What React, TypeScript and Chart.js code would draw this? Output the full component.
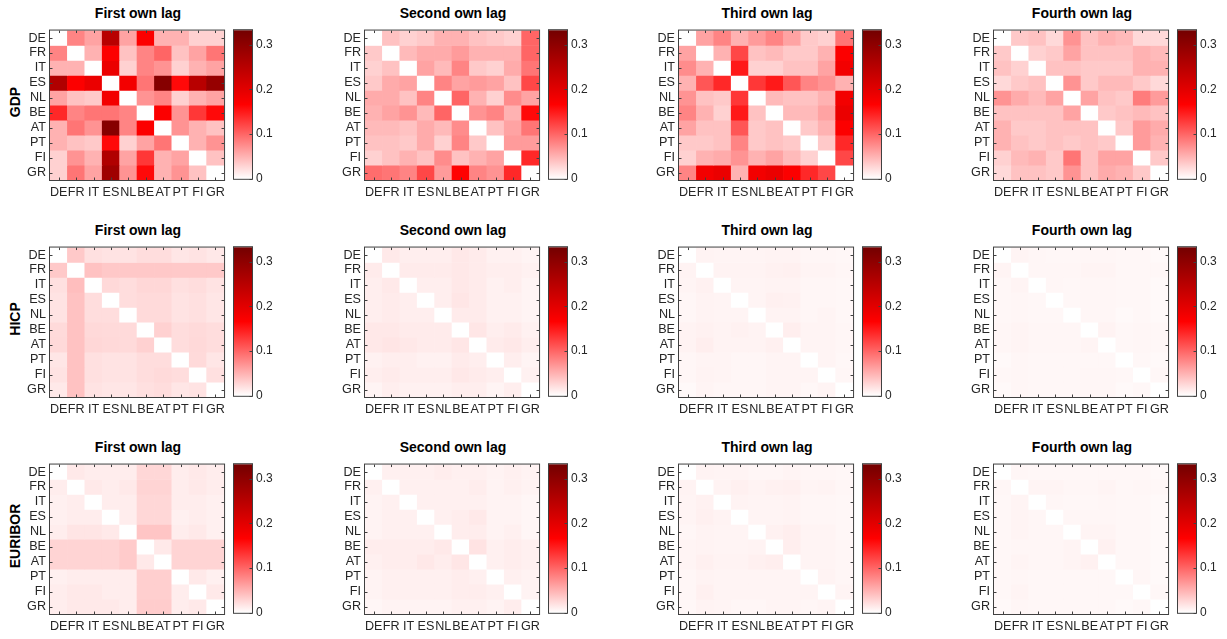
import React, { useEffect, useRef } from "react";
import { Chart, registerables } from "chart.js";

Chart.register(...registerables);

// ---------- data ----------
const countries = ["DE", "FR", "IT", "ES", "NL", "BE", "AT", "PT", "FI", "GR"];
const variables = ["GDP", "HICP", "EURIBOR"];
const lagTitles = ["First own lag", "Second own lag", "Third own lag", "Fourth own lag"];
const colorbarTicks = [0, 0.1, 0.2, 0.3];
const colorMax = 0.332;

// rows = equation country, columns = lagged country
const gdpLag1 = [
  [0, 0.08, 0.06, 0.25, 0.06, 0.17, 0.05, 0.05, 0.03, 0.03],
  [0.08, 0, 0.05, 0.17, 0.04, 0.08, 0.1, 0.04, 0.06, 0.09],
  [0.05, 0.05, 0, 0.19, 0.03, 0.08, 0.07, 0.03, 0.05, 0.06],
  [0.26, 0.17, 0.19, 0, 0.18, 0.09, 0.31, 0.16, 0.25, 0.29],
  [0.06, 0.04, 0.035, 0.18, 0, 0.07, 0.08, 0.03, 0.05, 0.06],
  [0.14, 0.08, 0.09, 0.09, 0.08, 0, 0.17, 0.07, 0.13, 0.16],
  [0.05, 0.09, 0.07, 0.31, 0.08, 0.17, 0, 0.07, 0.05, 0.04],
  [0.05, 0.04, 0.035, 0.16, 0.03, 0.06, 0.09, 0, 0.05, 0.07],
  [0.03, 0.07, 0.05, 0.26, 0.06, 0.13, 0.05, 0.06, 0, 0.04],
  [0.03, 0.09, 0.06, 0.28, 0.07, 0.16, 0.05, 0.07, 0.04, 0],
];
const gdpLag2 = [
  [0, 0.04, 0.03, 0.035, 0.05, 0.05, 0.04, 0.035, 0.03, 0.1],
  [0.035, 0, 0.045, 0.055, 0.055, 0.065, 0.05, 0.05, 0.05, 0.1],
  [0.03, 0.04, 0, 0.06, 0.045, 0.08, 0.035, 0.03, 0.055, 0.09],
  [0.035, 0.055, 0.06, 0, 0.08, 0.06, 0.065, 0.06, 0.04, 0.12],
  [0.055, 0.055, 0.04, 0.08, 0, 0.1, 0.05, 0.03, 0.075, 0.06],
  [0.05, 0.06, 0.07, 0.045, 0.1, 0, 0.07, 0.08, 0.05, 0.16],
  [0.045, 0.045, 0.04, 0.055, 0.045, 0.075, 0, 0.04, 0.06, 0.09],
  [0.04, 0.04, 0.035, 0.055, 0.03, 0.08, 0.035, 0, 0.065, 0.065],
  [0.03, 0.04, 0.05, 0.04, 0.075, 0.04, 0.05, 0.06, 0, 0.14],
  [0.095, 0.09, 0.08, 0.12, 0.065, 0.165, 0.08, 0.07, 0.14, 0],
];
const gdpLag3 = [
  [0, 0.06, 0.08, 0.05, 0.065, 0.08, 0.06, 0.035, 0.03, 0.09],
  [0.06, 0, 0.05, 0.12, 0.04, 0.045, 0.035, 0.035, 0.05, 0.17],
  [0.075, 0.05, 0, 0.15, 0.03, 0.03, 0.04, 0.04, 0.06, 0.18],
  [0.05, 0.11, 0.14, 0, 0.13, 0.15, 0.11, 0.08, 0.07, 0.05],
  [0.07, 0.04, 0.035, 0.13, 0, 0.045, 0.04, 0.04, 0.05, 0.18],
  [0.08, 0.05, 0.03, 0.15, 0.04, 0, 0.045, 0.045, 0.06, 0.19],
  [0.06, 0.04, 0.04, 0.11, 0.035, 0.04, 0, 0.035, 0.05, 0.17],
  [0.035, 0.035, 0.04, 0.08, 0.035, 0.04, 0.035, 0, 0.035, 0.14],
  [0.03, 0.05, 0.055, 0.07, 0.05, 0.06, 0.045, 0.03, 0, 0.12],
  [0.08, 0.18, 0.19, 0.05, 0.18, 0.19, 0.17, 0.14, 0.12, 0],
];
const gdpLag4 = [
  [0, 0.035, 0.04, 0.025, 0.07, 0.04, 0.05, 0.045, 0.025, 0.025],
  [0.035, 0, 0.03, 0.035, 0.06, 0.04, 0.04, 0.04, 0.05, 0.045],
  [0.04, 0.03, 0, 0.04, 0.04, 0.035, 0.035, 0.035, 0.05, 0.05],
  [0.025, 0.035, 0.04, 0, 0.07, 0.035, 0.045, 0.045, 0.035, 0.025],
  [0.07, 0.055, 0.045, 0.06, 0, 0.06, 0.04, 0.035, 0.085, 0.065],
  [0.04, 0.04, 0.04, 0.04, 0.06, 0, 0.035, 0.04, 0.045, 0.04],
  [0.05, 0.035, 0.035, 0.04, 0.04, 0.04, 0, 0.035, 0.065, 0.055],
  [0.05, 0.04, 0.035, 0.04, 0.035, 0.04, 0.035, 0, 0.065, 0.05],
  [0.03, 0.045, 0.05, 0.035, 0.09, 0.04, 0.06, 0.06, 0, 0.035],
  [0.025, 0.04, 0.04, 0.035, 0.07, 0.04, 0.055, 0.05, 0.035, 0],
];

const hicpLag1 = [
  [0, 0.035, 0.02, 0.018, 0.018, 0.022, 0.022, 0.016, 0.018, 0.015],
  [0.035, 0, 0.04, 0.036, 0.036, 0.036, 0.036, 0.035, 0.035, 0.035],
  [0.02, 0.042, 0, 0.025, 0.022, 0.026, 0.026, 0.02, 0.022, 0.018],
  [0.018, 0.04, 0.022, 0, 0.022, 0.024, 0.024, 0.018, 0.02, 0.016],
  [0.018, 0.04, 0.022, 0.022, 0, 0.024, 0.024, 0.018, 0.02, 0.016],
  [0.024, 0.04, 0.025, 0.024, 0.024, 0, 0.03, 0.022, 0.024, 0.022],
  [0.025, 0.04, 0.026, 0.025, 0.024, 0.03, 0, 0.022, 0.025, 0.022],
  [0.016, 0.04, 0.02, 0.018, 0.018, 0.022, 0.022, 0, 0.024, 0.016],
  [0.018, 0.04, 0.02, 0.018, 0.018, 0.022, 0.024, 0.022, 0, 0.02],
  [0.014, 0.04, 0.018, 0.016, 0.016, 0.02, 0.022, 0.016, 0.018, 0],
];
const hicpLag2 = [
  [0, 0.014, 0.011, 0.011, 0.011, 0.015, 0.013, 0.009, 0.009, 0.007],
  [0.013, 0, 0.013, 0.013, 0.013, 0.015, 0.013, 0.011, 0.011, 0.009],
  [0.011, 0.014, 0, 0.011, 0.011, 0.015, 0.013, 0.009, 0.011, 0.007],
  [0.011, 0.013, 0.011, 0, 0.011, 0.016, 0.013, 0.009, 0.009, 0.007],
  [0.011, 0.013, 0.011, 0.011, 0, 0.013, 0.013, 0.009, 0.009, 0.007],
  [0.015, 0.015, 0.013, 0.013, 0.013, 0, 0.016, 0.011, 0.013, 0.009],
  [0.015, 0.017, 0.015, 0.013, 0.013, 0.016, 0, 0.013, 0.015, 0.011],
  [0.009, 0.011, 0.011, 0.009, 0.009, 0.013, 0.011, 0, 0.011, 0.007],
  [0.011, 0.013, 0.011, 0.011, 0.011, 0.015, 0.013, 0.011, 0, 0.009],
  [0.007, 0.011, 0.009, 0.009, 0.009, 0.011, 0.011, 0.007, 0.011, 0],
];
const hicpLag3 = [
  [0, 0.008, 0.007, 0.007, 0.007, 0.008, 0.008, 0.006, 0.006, 0.005],
  [0.008, 0, 0.008, 0.008, 0.008, 0.009, 0.01, 0.007, 0.007, 0.006],
  [0.007, 0.009, 0, 0.007, 0.007, 0.008, 0.008, 0.006, 0.006, 0.005],
  [0.006, 0.008, 0.007, 0, 0.007, 0.01, 0.009, 0.006, 0.006, 0.005],
  [0.006, 0.008, 0.007, 0.007, 0, 0.008, 0.008, 0.006, 0.007, 0.005],
  [0.008, 0.009, 0.008, 0.009, 0.008, 0, 0.011, 0.007, 0.007, 0.006],
  [0.008, 0.011, 0.008, 0.008, 0.008, 0.01, 0, 0.007, 0.007, 0.006],
  [0.006, 0.007, 0.007, 0.006, 0.006, 0.007, 0.007, 0, 0.007, 0.005],
  [0.006, 0.008, 0.007, 0.006, 0.006, 0.007, 0.007, 0.007, 0, 0.006],
  [0.004, 0.007, 0.006, 0.006, 0.006, 0.007, 0.007, 0.005, 0.007, 0],
];
const hicpLag4 = [
  [0, 0.007, 0.006, 0.005, 0.005, 0.006, 0.006, 0.005, 0.005, 0.004],
  [0.007, 0, 0.006, 0.006, 0.006, 0.007, 0.007, 0.005, 0.005, 0.005],
  [0.005, 0.007, 0, 0.006, 0.005, 0.006, 0.006, 0.005, 0.005, 0.004],
  [0.005, 0.006, 0.005, 0, 0.005, 0.006, 0.006, 0.005, 0.005, 0.004],
  [0.005, 0.006, 0.005, 0.005, 0, 0.006, 0.006, 0.004, 0.005, 0.004],
  [0.006, 0.007, 0.006, 0.006, 0.006, 0, 0.008, 0.005, 0.006, 0.005],
  [0.006, 0.007, 0.006, 0.006, 0.006, 0.007, 0, 0.005, 0.006, 0.005],
  [0.004, 0.006, 0.005, 0.005, 0.005, 0.005, 0.005, 0, 0.005, 0.004],
  [0.005, 0.006, 0.005, 0.005, 0.005, 0.006, 0.006, 0.005, 0, 0.005],
  [0.004, 0.006, 0.005, 0.005, 0.005, 0.006, 0.006, 0.004, 0.005, 0],
];

const euriborLag1 = [
  [0, 0.014, 0.012, 0.012, 0.012, 0.026, 0.026, 0.012, 0.014, 0.012],
  [0.012, 0, 0.014, 0.012, 0.014, 0.028, 0.028, 0.012, 0.014, 0.012],
  [0.01, 0.012, 0, 0.012, 0.012, 0.026, 0.026, 0.012, 0.012, 0.01],
  [0.01, 0.012, 0.012, 0, 0.012, 0.026, 0.026, 0.01, 0.012, 0.01],
  [0.012, 0.017, 0.017, 0.014, 0, 0.038, 0.038, 0.012, 0.014, 0.01],
  [0.028, 0.028, 0.028, 0.028, 0.034, 0, 0.014, 0.028, 0.028, 0.028],
  [0.028, 0.028, 0.028, 0.028, 0.034, 0.014, 0, 0.028, 0.028, 0.028],
  [0.01, 0.012, 0.012, 0.012, 0.012, 0.031, 0.031, 0, 0.014, 0.01],
  [0.012, 0.014, 0.014, 0.012, 0.012, 0.031, 0.031, 0.012, 0, 0.014],
  [0.012, 0.014, 0.014, 0.014, 0.012, 0.033, 0.033, 0.012, 0.014, 0],
];
const euriborLag2 = [
  [0, 0.01, 0.01, 0.01, 0.012, 0.01, 0.01, 0.008, 0.01, 0.008],
  [0.01, 0, 0.01, 0.01, 0.01, 0.01, 0.012, 0.008, 0.01, 0.008],
  [0.008, 0.01, 0, 0.01, 0.01, 0.01, 0.01, 0.008, 0.008, 0.006],
  [0.008, 0.01, 0.01, 0, 0.01, 0.012, 0.014, 0.008, 0.008, 0.006],
  [0.008, 0.01, 0.01, 0.01, 0, 0.012, 0.012, 0.008, 0.01, 0.006],
  [0.012, 0.012, 0.012, 0.012, 0.014, 0, 0.018, 0.01, 0.012, 0.01],
  [0.01, 0.012, 0.012, 0.015, 0.012, 0.016, 0, 0.01, 0.012, 0.01],
  [0.008, 0.01, 0.01, 0.01, 0.01, 0.012, 0.01, 0, 0.01, 0.008],
  [0.008, 0.01, 0.01, 0.01, 0.01, 0.012, 0.012, 0.01, 0, 0.008],
  [0.006, 0.008, 0.008, 0.008, 0.008, 0.01, 0.01, 0.008, 0.012, 0],
];
const euriborLag3 = [
  [0, 0.008, 0.007, 0.007, 0.006, 0.006, 0.007, 0.006, 0.006, 0.005],
  [0.008, 0, 0.008, 0.01, 0.008, 0.009, 0.01, 0.007, 0.008, 0.006],
  [0.007, 0.009, 0, 0.008, 0.007, 0.007, 0.008, 0.006, 0.006, 0.005],
  [0.007, 0.01, 0.008, 0, 0.007, 0.007, 0.008, 0.006, 0.006, 0.005],
  [0.006, 0.008, 0.007, 0.007, 0, 0.009, 0.011, 0.007, 0.007, 0.005],
  [0.007, 0.008, 0.007, 0.007, 0.008, 0, 0.011, 0.007, 0.007, 0.006],
  [0.007, 0.01, 0.008, 0.008, 0.01, 0.011, 0, 0.007, 0.007, 0.006],
  [0.006, 0.008, 0.007, 0.007, 0.007, 0.007, 0.007, 0, 0.008, 0.006],
  [0.006, 0.01, 0.007, 0.007, 0.007, 0.007, 0.007, 0.007, 0, 0.007],
  [0.005, 0.008, 0.007, 0.006, 0.006, 0.007, 0.007, 0.006, 0.007, 0],
];
const euriborLag4 = [
  [0, 0.006, 0.005, 0.005, 0.005, 0.005, 0.005, 0.005, 0.005, 0.004],
  [0.006, 0, 0.007, 0.007, 0.006, 0.006, 0.007, 0.005, 0.006, 0.005],
  [0.005, 0.007, 0, 0.006, 0.005, 0.005, 0.006, 0.005, 0.005, 0.004],
  [0.005, 0.007, 0.006, 0, 0.006, 0.006, 0.006, 0.005, 0.005, 0.004],
  [0.005, 0.007, 0.006, 0.006, 0, 0.007, 0.007, 0.005, 0.005, 0.004],
  [0.005, 0.006, 0.006, 0.006, 0.007, 0, 0.009, 0.005, 0.005, 0.004],
  [0.005, 0.007, 0.006, 0.006, 0.007, 0.009, 0, 0.005, 0.005, 0.004],
  [0.005, 0.006, 0.005, 0.005, 0.005, 0.005, 0.005, 0, 0.006, 0.004],
  [0.005, 0.007, 0.005, 0.005, 0.005, 0.005, 0.005, 0.005, 0, 0.005],
  [0.004, 0.006, 0.005, 0.005, 0.005, 0.005, 0.005, 0.004, 0.005, 0],
];

const panelMatrices = [
  [gdpLag1, gdpLag2, gdpLag3, gdpLag4],
  [hicpLag1, hicpLag2, hicpLag3, hicpLag4],
  [euriborLag1, euriborLag2, euriborLag3, euriborLag4],
];

// ---------- layout / style ----------
const FONT = "'Liberation Sans', Arial, Helvetica, sans-serif";
const TEXT = "#262626";
const AXIS = "#404040";
const colLeft = [50, 365, 679, 994];
const rowTop = [23, 240, 457];
const BOX_W = 176;
const BOX_H = 157;
const Y_AXIS_W = 44;
const X_AXIS_H = 28;
const PAD = 4;
const CB_OFFSET = 184;
const CB_W = 18;
const CB_AXIS_W = 40;
const TICK_LEN = 2.5;
const AXIS_FONT = 12.6;

function heatColor(v: number): string {
  const t = Math.max(0, Math.min(1, v / colorMax));
  if (t <= 0.5) {
    const g = Math.round(255 * (1 - 2 * t));
    return `rgb(255,${g},${g})`;
  }
  const r = Math.round(255 - (255 - 115) * (2 * t - 1));
  return `rgb(${r},0,0)`;
}

function boxPlugin(kind: "heat" | "bar") {
  return {
    id: "matBox" + kind,
    afterDraw(chart: any) {
      const { ctx, chartArea: a } = chart;
      ctx.save();
      ctx.strokeStyle = AXIS;
      ctx.lineWidth = 1;
      ctx.beginPath();
      const yScale = chart.scales.y;
      if (kind === "heat") {
        const xScale = chart.scales.x;
        xScale.ticks.forEach((_: any, i: number) => {
          const x = Math.round(xScale.getPixelForTick(i)) + 0.5;
          ctx.moveTo(x, a.bottom);
          ctx.lineTo(x, a.bottom - TICK_LEN);
          ctx.moveTo(x, a.top);
          ctx.lineTo(x, a.top + TICK_LEN);
        });
      }
      yScale.ticks.forEach((t: any) => {
        const y = Math.round(yScale.getPixelForValue(t.value)) + 0.5;
        if (kind === "heat") {
          ctx.moveTo(a.left, y);
          ctx.lineTo(a.left + TICK_LEN, y);
        }
        ctx.moveTo(a.right, y);
        ctx.lineTo(a.right - TICK_LEN, y);
      });
      ctx.stroke();
      ctx.strokeRect(a.left - 0.5, a.top - 0.5, a.right - a.left + 1, a.bottom - a.top + 1);
      ctx.restore();
    },
  };
}

function heatConfig(matrix: number[][]): any {
  return {
    type: "bar",
    data: {
      labels: countries,
      datasets: matrix.map((row, r) => ({
        data: countries.map(() => [r, r + 1]),
        backgroundColor: row.map(heatColor),
        borderWidth: 0,
        grouped: false,
        barPercentage: 1,
        categoryPercentage: 1,
      })),
    },
    options: {
      animation: false,
      responsive: false,
      maintainAspectRatio: false,
      events: [],
      layout: { padding: { top: PAD, right: PAD, left: 0, bottom: 0 } },
      plugins: { legend: { display: false }, tooltip: { enabled: false }, title: { display: false } },
      scales: {
        x: {
          type: "category",
          grid: { display: false, drawTicks: false },
          border: { display: false },
          ticks: {
            autoSkip: false,
            maxRotation: 0,
            minRotation: 0,
            padding: 5,
            color: TEXT,
            font: { family: FONT, size: AXIS_FONT },
          },
          afterFit: (s: any) => {
            s.height = X_AXIS_H;
          },
        },
        y: {
          type: "linear",
          min: 0,
          max: countries.length,
          reverse: true,
          grid: { display: false, drawTicks: false },
          border: { display: false },
          afterBuildTicks: (s: any) => {
            s.ticks = countries.map((_, i) => ({ value: i + 0.5 }));
          },
          ticks: {
            autoSkip: false,
            padding: 4,
            color: TEXT,
            font: { family: FONT, size: AXIS_FONT },
            callback: (v: number) => countries[Math.floor(v)],
          },
          afterFit: (s: any) => {
            s.width = Y_AXIS_W;
          },
        },
      },
    },
    plugins: [boxPlugin("heat")],
  };
}

function colorbarConfig(): any {
  return {
    type: "bar",
    data: {
      labels: [""],
      datasets: [
        {
          data: [[0, colorMax]],
          backgroundColor: (c: any) => {
            const a = c.chart.chartArea;
            if (!a) return "red";
            const g = c.chart.ctx.createLinearGradient(0, a.bottom, 0, a.top);
            g.addColorStop(0, heatColor(0));
            g.addColorStop(0.5, heatColor(colorMax / 2));
            g.addColorStop(1, heatColor(colorMax));
            return g;
          },
          borderWidth: 0,
          barPercentage: 1,
          categoryPercentage: 1,
        },
      ],
    },
    options: {
      animation: false,
      responsive: false,
      maintainAspectRatio: false,
      events: [],
      layout: { padding: { top: PAD, right: 0, left: PAD, bottom: 10 } },
      plugins: { legend: { display: false }, tooltip: { enabled: false }, title: { display: false } },
      scales: {
        x: { display: false },
        y: {
          type: "linear",
          position: "right",
          min: 0,
          max: colorMax,
          grid: { display: false, drawTicks: false },
          border: { display: false },
          afterBuildTicks: (s: any) => {
            s.ticks = colorbarTicks.map((v) => ({ value: v }));
          },
          ticks: {
            autoSkip: false,
            padding: 4,
            color: TEXT,
            font: { family: FONT, size: 12 },
            callback: (v: number) => String(v),
          },
          afterFit: (s: any) => {
            s.width = CB_AXIS_W;
          },
        },
      },
    },
    plugins: [boxPlugin("bar")],
  };
}

function Panel({ matrix, left, top, title }: { matrix: number[][]; left: number; top: number; title: string }) {
  const heatRef = useRef<HTMLCanvasElement>(null);
  const barRef = useRef<HTMLCanvasElement>(null);
  const hw = Y_AXIS_W + BOX_W + PAD;
  const hh = PAD + BOX_H + X_AXIS_H;
  const cw = PAD + CB_W + CB_AXIS_W;
  const ch = PAD + BOX_H + 10;
  useEffect(() => {
    const h = new Chart(heatRef.current as HTMLCanvasElement, heatConfig(matrix));
    const c = new Chart(barRef.current as HTMLCanvasElement, colorbarConfig());
    return () => {
      h.destroy();
      c.destroy();
    };
  }, [matrix]);
  return (
    <>
      <div
        style={{
          position: "absolute",
          left,
          top: top - 18.5,
          width: BOX_W,
          textAlign: "center",
          font: `bold 14px ${FONT}`,
          lineHeight: "16px",
          color: "#000",
          whiteSpace: "nowrap",
        }}
      >
        {title}
      </div>
      <canvas
        ref={heatRef}
        width={hw}
        height={hh}
        style={{ position: "absolute", left: left - Y_AXIS_W, top: top - PAD, width: hw, height: hh }}
      />
      <canvas
        ref={barRef}
        width={cw}
        height={ch}
        style={{ position: "absolute", left: left + CB_OFFSET - PAD, top: top - PAD, width: cw, height: ch }}
      />
    </>
  );
}

export default function App() {
  return (
    <div
      style={{
        position: "absolute",
        left: 0,
        top: 0,
        width: 1227,
        height: 639,
        background: "#fff",
        overflow: "hidden",
      }}
    >
      {variables.map((v, r) => (
        <React.Fragment key={v}>
          <div
            style={{
              position: "absolute",
              left: 15,
              top: rowTop[r] + BOX_H / 2,
              transform: "translate(-50%, -50%) rotate(-90deg)",
              font: `bold 14px ${FONT}`,
              lineHeight: "16px",
              color: "#000",
              whiteSpace: "nowrap",
            }}
          >
            {v}
          </div>
          {lagTitles.map((t, c) => (
            <Panel key={t} matrix={panelMatrices[r][c]} left={colLeft[c]} top={rowTop[r]} title={t} />
          ))}
        </React.Fragment>
      ))}
    </div>
  );
}
